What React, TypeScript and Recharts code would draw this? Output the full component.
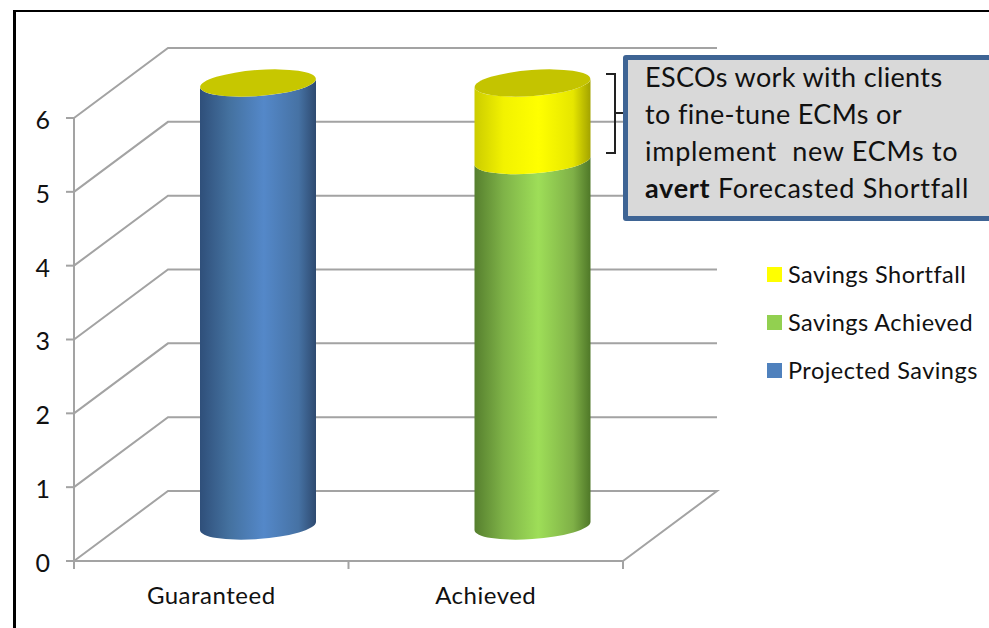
import React from 'react';
import { BarChart, Bar, XAxis, YAxis, CartesianGrid, Legend } from 'recharts';

const categories = ['Guaranteed', 'Achieved'];
const projectedSavings = [6, 0];
const savingsAchieved = [0, 4.95];
const savingsShortfall = [0, 1.05];
const valueTicks = [0, 1, 2, 3, 4, 5, 6];
const calloutLines = ['ESCOs work with clients', 'to fine-tune ECMs or', 'implement  new ECMs to'];

const chartData = categories.map((name, i) => ({
  name,
  projected: projectedSavings[i],
  achieved: savingsAchieved[i],
  shortfall: savingsShortfall[i],
}));

// plot box of the front face, the back wall is pushed by DEPTH_X / DEPTH_Y
const WIDTH = 989;
const HEIGHT = 628;
const LEFT = 74;
const RIGHT = 623;
const TOP = 118;
const BOTTOM = 561;
const DEPTH_X = 94;
const DEPTH_Y = 70;
const BAND = (RIGHT - LEFT) / categories.length;

const AXIS_GREY = '#a3a3a3';
const FONT = 'Lato, "Open Sans", sans-serif';

// 3D floor and wall line for one value
function wallLine(props: any) {
  const { x1, x2, y1, key } = props;
  const backY = y1 - DEPTH_Y;
  const floor = Math.abs(y1 - BOTTOM) < 1;
  const d = `M${x1},${y1} L${x1 + DEPTH_X},${backY} L${x2 + DEPTH_X},${backY}` + (floor ? ` L${x2},${y1}` : '');
  return <path key={key} d={d} fill="none" stroke={AXIS_GREY} strokeWidth={2} />;
}

// one cylinder segment, sitting halfway into the chart depth
function cylinder(gradient: string, capFill?: string) {
  return function CylinderShape(props: any) {
    const { x, y, width, height } = props;
    if (!height || height <= 0) return null;
    const hw = width / 2;
    const cx = x + hw + DEPTH_X / 2;
    const top = y - DEPTH_Y / 2;
    const bottom = top + height;
    const tilt = 4;
    const ry = 13;
    const angle = -4.2;
    const body =
      `M${cx - hw},${top + tilt} L${cx - hw},${bottom + tilt} ` +
      `A${hw},${ry} ${angle} 0 0 ${cx + hw},${bottom - tilt} ` +
      `L${cx + hw},${top - tilt} ` +
      `A${hw},${ry} ${angle} 0 1 ${cx - hw},${top + tilt} Z`;
    return (
      <g>
        <path d={body} fill={`url(#${gradient})`} />
        {capFill && (
          <ellipse cx={cx} cy={top} rx={hw} ry={ry} fill={capFill} transform={`rotate(${angle} ${cx} ${top})`} />
        )}
      </g>
    );
  };
}

function CategoryTick(props: any) {
  const { x, payload, index } = props;
  const left = x - BAND / 2;
  return (
    <g>
      <line x1={left} x2={left} y1={BOTTOM} y2={BOTTOM + 8} stroke={AXIS_GREY} strokeWidth={2} />
      {index === categories.length - 1 && (
        <line x1={x + BAND / 2} x2={x + BAND / 2} y1={BOTTOM} y2={BOTTOM + 8} stroke={AXIS_GREY} strokeWidth={2} />
      )}
      <text x={x} y={604} textAnchor="middle" fontFamily={FONT} fontSize={24} letterSpacing={0.5} fill="#111">
        {payload.value}
      </text>
    </g>
  );
}

function SavingsLegend({ payload }: any) {
  const items = [...(payload || [])].reverse();
  return (
    <div style={{ fontFamily: FONT, fontSize: 23.5, letterSpacing: 0.47, color: '#111' }}>
      {items.map((item: any) => (
        <div key={item.value} style={{ display: 'flex', alignItems: 'center', height: 48 }}>
          <span style={{ width: 15, height: 15, background: item.color, marginRight: 6 }} />
          <span style={{ whiteSpace: 'pre' }}>{item.value}</span>
        </div>
      ))}
    </div>
  );
}

function Gradient({ id, edgeL, midL, mid, midR, edgeR }: any) {
  return (
    <linearGradient id={id} x1="0" y1="0" x2="1" y2="0">
      <stop offset="0" stopColor={edgeL} />
      <stop offset="0.25" stopColor={midL} />
      <stop offset="0.55" stopColor={mid} />
      <stop offset="0.85" stopColor={midR} />
      <stop offset="1" stopColor={edgeR} />
    </linearGradient>
  );
}

export default function App() {
  return (
    <div style={{ position: 'relative', width: WIDTH, height: HEIGHT, background: '#fff', overflow: 'hidden' }}>
      <style>{'body { margin: 0; }'}</style>
      <BarChart
        width={WIDTH}
        height={HEIGHT}
        data={chartData}
        barSize={116}
        margin={{ top: TOP, right: WIDTH - RIGHT, bottom: HEIGHT - BOTTOM - 40, left: LEFT - 60 }}
      >
        <defs>
          <Gradient id="blueSide" edgeL="#2f4f7a" midL="#44719f" mid="#5488c9" midR="#4672a4" edgeR="#2e4a70" />
          <Gradient id="greenSide" edgeL="#567f2e" midL="#7fb348" mid="#9ede58" midR="#7fb047" edgeR="#4f7828" />
          <Gradient id="yellowSide" edgeL="#cccc00" midL="#f2f200" mid="#ffff00" midR="#e6e600" edgeR="#a3a300" />
        </defs>
        <CartesianGrid vertical={false} horizontal={wallLine} />
        <XAxis
          dataKey="name"
          height={40}
          tickLine={false}
          axisLine={{ stroke: AXIS_GREY, strokeWidth: 2 }}
          tick={CategoryTick}
          interval={0}
        />
        <YAxis
          width={60}
          type="number"
          domain={[0, 6]}
          ticks={valueTicks}
          interval={0}
          tickSize={8}
          tickMargin={16}
          axisLine={{ stroke: AXIS_GREY, strokeWidth: 2 }}
          tickLine={{ stroke: AXIS_GREY, strokeWidth: 2 }}
          tick={{ fontFamily: FONT, fontSize: 25, fill: '#111', dy: 2 }}
        />
        <Legend
          layout="vertical"
          align="center"
          verticalAlign="middle"
          content={SavingsLegend}
          wrapperStyle={{ position: 'absolute', left: 767, top: 250, width: 222, height: 144 }}
        />
        <Bar dataKey="projected" name="Projected Savings" stackId="s" fill="#4f81bd" shape={cylinder('blueSide', '#c7c700')} isAnimationActive={false} />
        <Bar dataKey="achieved" name="Savings Achieved" stackId="s" fill="#92d050" shape={cylinder('greenSide')} isAnimationActive={false} />
        <Bar dataKey="shortfall" name="Savings Shortfall" stackId="s" fill="#ffff00" shape={cylinder('yellowSide', '#c4c400')} isAnimationActive={false} />
      </BarChart>

      {/* page frame, only the top and left edges show */}
      <div style={{ position: 'absolute', left: 13, top: 10, right: 0, height: 2, background: '#000' }} />
      <div style={{ position: 'absolute', left: 13, top: 10, bottom: 0, width: 3, background: '#000' }} />

      {/* bracket next to the shortfall segment */}
      <svg width={WIDTH} height={HEIGHT} style={{ position: 'absolute', left: 0, top: 0, pointerEvents: 'none' }}>
        <path d="M606,74 L615,74 L615,153 L606,153 M615,113 L624,113" fill="none" stroke="#222" strokeWidth={2} />
      </svg>

      {/* callout */}
      <div
        style={{
          position: 'absolute',
          left: 623,
          top: 55,
          width: 380,
          height: 166,
          boxSizing: 'border-box',
          border: '5px solid #3e6494',
          borderRadius: 3,
          background: '#d9d9d9',
          fontFamily: FONT,
          fontSize: 27,
          letterSpacing: 0.36,
          lineHeight: '37px',
          color: '#111',
          paddingLeft: 17,
          whiteSpace: 'pre',
        }}
      >
        <div style={{ marginTop: -2 }}>
          {calloutLines.map((line, i) => (
            <div key={line} style={i === 2 ? { letterSpacing: 0.72 } : undefined}>
              {line}
            </div>
          ))}
          <div style={{ letterSpacing: 0.72 }}>
            <b>avert</b> Forecasted Shortfall
          </div>
        </div>
      </div>
    </div>
  );
}
